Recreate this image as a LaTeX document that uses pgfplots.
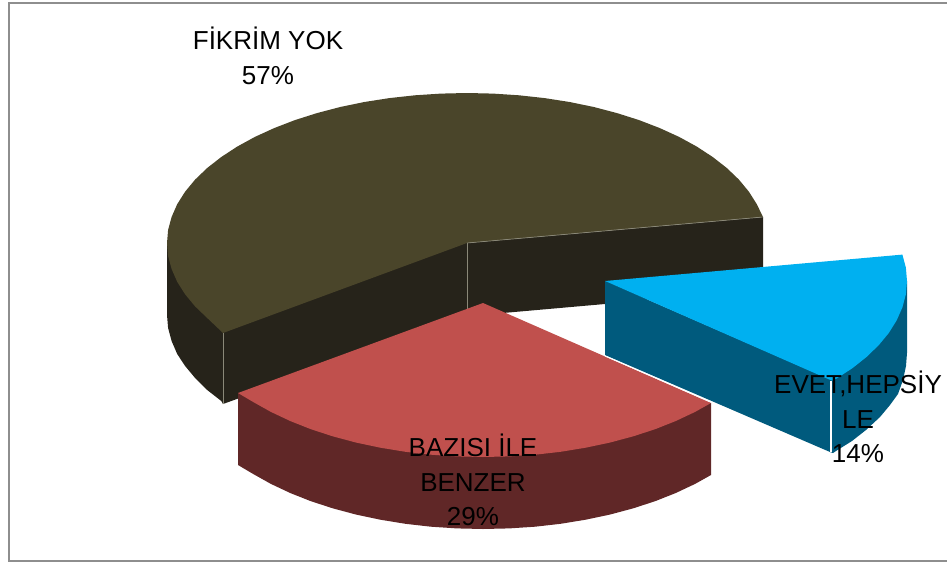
\documentclass[border=0pt]{standalone}
\usepackage{pgfplots}
\pgfplotsset{compat=1.18}
\usepackage{fontspec}
\setmainfont{Liberation Sans}
\definecolor{olivetop}{HTML}{4A452A}
\definecolor{oliveside}{HTML}{26231A}
\definecolor{redtop}{HTML}{C0504D}
\definecolor{redside}{HTML}{602727}
\definecolor{bluetop}{HTML}{00B0F0}
\definecolor{blueside}{HTML}{005A7D}
\definecolor{framegrey}{HTML}{8E8E8E}
\definecolor{edgegrey}{HTML}{8A8878}
\begin{document}
\begin{tikzpicture}
\useasboundingbox (0,0) rectangle (947pt,562pt);
\begin{axis}[
  at={(0,0)}, anchor=south west,
  width=947pt, height=562pt, scale only axis,
  xmin=0, xmax=947, ymin=0, ymax=562, y dir=reverse,
  hide axis, clip=false,
  every axis plot/.append style={line width=0pt, draw=none},
]
% frame
\addplot[draw=framegrey, line width=2pt] coordinates {(947,3) (9,3) (9,561) (947,561)};
% olive sides
\addplot[fill=oliveside] coordinates {(167,243) (167,315) (168.1,328) (171.6,341) (177.2,354) (185.1,366) (195.1,378) (207.2,390) (221.3,401) (223,404) (467,316) (467,243)} -- cycle;
\addplot[fill=oliveside] coordinates {(467,243) (763,217) (763,287) (605,304) (503,313) (467,316)} -- cycle;
% olive top
\addplot[fill=olivetop] coordinates {(467,243) (763,217) (756.8,204.2) (748.9,191.7) (738.9,179.6) (726.8,168) (712.7,157) (696.8,146.6) (679.1,136.9) (659.8,128.1) (639.1,120.1) (617,113.1) (593.8,107) (569.6,102) (544.6,98.1) (519.1,95.3) (493.1,93.6) (467,93) (440.9,93.6) (414.9,95.3) (389.4,98.1) (364.4,102) (340.2,107) (317,113.1) (294.9,120.1) (274.2,128.1) (254.9,136.9) (237.2,146.6) (221.3,157) (207.2,168) (195.1,179.6) (185.1,191.7) (177.2,204.2) (171.6,217) (168.1,229.9) (167,243) (168.1,256.1) (171.6,269) (177.2,281.8) (185.1,294.3) (195.1,306.4) (207.2,318) (223,333)} -- cycle;
\addplot[draw=edgegrey, line width=0.7pt] coordinates {(223,333) (223,404)};
\addplot[draw=edgegrey, line width=0.7pt] coordinates {(467,243) (467,312)};
\addplot[draw=edgegrey, line width=0.7pt] coordinates {(467,243) (763,217)};
% blue
\addplot[fill=blueside] coordinates {(605,281) (832,380) (907,281) (907,353) (906,366) (903,380) (898,394) (890,405) (880,417) (866,430) (852,441) (836,451) (833,453) (830,452) (605,355)} -- cycle;
\addplot[fill=bluetop] coordinates {(605,281) (902.4,254.6) (905.9,267.8) (907,281) (905.9,294.2) (902.4,307.4) (896.7,320.3) (888.8,333) (878.7,345.2) (866.5,357) (852.4,368.2) (836.3,378.7) (832,380.7)} -- cycle;
\addplot[draw=white, line width=1.2pt] coordinates {(831,381) (831,452)};
% red
\addplot[fill=redside] coordinates {(238,393) (238,465) (253.2,474) (270.9,483.9) (290.2,493) (310.9,501.2) (333,508.4) (356.2,514.6) (380.4,519.7) (405.4,523.8) (430.9,526.7) (456.9,528.4) (483,529) (509.1,528.4) (535.1,526.7) (560.6,523.8) (585.6,519.7) (609.8,514.6) (633,508.4) (655.1,501.2) (675.8,493) (695.1,483.9) (711,475) (711,403)} -- cycle;
\addplot[fill=redtop] coordinates {(483,303) (238,393) (253.2,402) (270.9,411.9) (290.2,421) (310.9,429.2) (333,436.4) (356.2,442.6) (380.4,447.7) (405.4,451.8) (430.9,454.7) (456.9,456.4) (483,457) (509.1,456.4) (535.1,454.7) (560.6,451.8) (585.6,447.7) (609.8,442.6) (633,436.4) (655.1,429.2) (675.8,421) (695.1,411.9) (711,403)} -- cycle;
\addplot[draw=white, line width=0.9pt] coordinates {(605,356) (711,402)};
% labels
\node[align=center, font=\fontsize{26}{34.5}\selectfont, anchor=center] at (axis cs:268,56) {FİKRİM YOK\\57\%};
\node[align=center, font=\fontsize{26}{34.5}\selectfont, anchor=center] at (axis cs:473,480) {BAZISI İLE\\BENZER\\29\%};
\node[align=center, font=\fontsize{26}{34.5}\selectfont, anchor=center] at (axis cs:858,417) {EVET,HEPSİY\\LE\\14\%};
\end{axis}
\end{tikzpicture}
\end{document}
